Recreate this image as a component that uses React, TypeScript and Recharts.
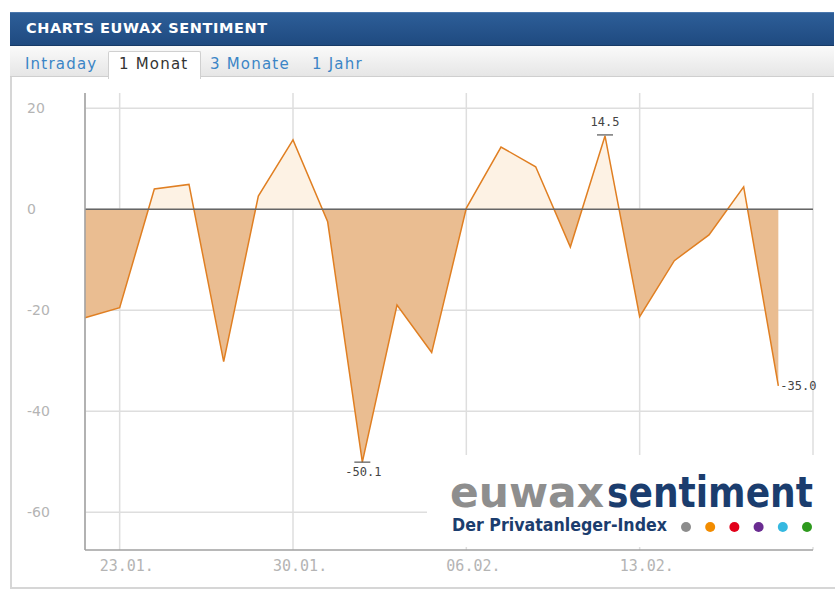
import React from 'react';
import { AreaChart, Area, XAxis, YAxis, CartesianGrid, ReferenceLine, LabelList } from 'recharts';

const dates = [
  '20.01.', '23.01.', '24.01.', '25.01.', '26.01.', '27.01.',
  '30.01.', '31.01.', '01.02.', '02.02.', '03.02.',
  '06.02.', '07.02.', '08.02.', '09.02.', '10.02.',
  '13.02.', '14.02.', '15.02.', '16.02.', '17.02.', '20.02.',
];
const sentiment: (number | null)[] = [
  -21.5, -19.5, 4.0, 4.9, -30.2, 2.6,
  13.7, -2.5, -50.1, -19.0, -28.4,
  0.2, 12.3, 8.4, -7.5, 14.5,
  -21.3, -10.2, -5.1, 4.4, -35.0, null,
];
const xTicks = ['23.01.', '30.01.', '06.02.', '13.02.'];
const yTicks = [20, 0, -20, -40, -60];
const tabs = ['Intraday', '1 Monat', '3 Monate', '1 Jahr'];
const logoDots = ['#8c8c8c', '#f28c00', '#e2001a', '#6a2c91', '#35b8e0', '#2e9a1e'];

const data = dates.map((d, i) => ({ date: d, value: sentiment[i] }));

const nums = sentiment.filter((v): v is number => v !== null);
const maxV = Math.max(...nums);
const minV = Math.min(...nums);
const maxIdx = sentiment.indexOf(maxV);
const minIdx = sentiment.indexOf(minV);
const lastIdx = nums.length - 1;
const splitOffset = maxV / (maxV - minV);

const mono = '"DejaVu Sans Mono", monospace';

const YTick = (props: any) => (
  <text x={27} y={props.y + 5} fill="#b4b4b4" fontSize={14} fontFamily="'DejaVu Sans', sans-serif" textAnchor="start">
    {props.payload.value}
  </text>
);

const XTick = (props: any) => (
  <text x={props.x - 20} y={571} fill="#b4b4b4" fontSize={15} fontFamily={mono} textAnchor="start">
    {props.payload.value}
  </text>
);

const PointLabel = (props: any) => {
  const { x, y, value, index } = props;
  if (index === maxIdx) {
    return (
      <g>
        <line x1={x - 8} x2={x + 8} y1={y - 1} y2={y - 1} stroke="#555" strokeWidth={1.2} />
        <text x={x} y={y - 10} fill="#444" fontSize={12} fontFamily={mono} textAnchor="middle">{value.toFixed(1)}</text>
      </g>
    );
  }
  if (index === minIdx) {
    return (
      <g>
        <line x1={x - 8} x2={x + 8} y1={y} y2={y} stroke="#555" strokeWidth={1.2} />
        <text x={x + 1} y={y + 14} fill="#444" fontSize={12} fontFamily={mono} textAnchor="middle">{value.toFixed(1)}</text>
      </g>
    );
  }
  if (index === lastIdx) {
    return (
      <text x={x + 2} y={y + 4} fill="#444" fontSize={12} fontFamily={mono} textAnchor="start">{value.toFixed(1)}</text>
    );
  }
  return null;
};

export default function App() {
  return (
    <div style={{ position: 'absolute', left: 0, top: 0, width: 835, height: 599, background: '#fff', overflow: 'hidden', fontFamily: '"DejaVu Sans", sans-serif' }}>
      {/* title bar */}
      <div style={{ position: 'absolute', left: 10, top: 12, width: 824, height: 32, background: 'linear-gradient(#2d5e98, #1f4a80)', borderTop: '1px solid #4a77ad', borderBottom: '1px solid #173a66' }}>
        <span style={{ position: 'absolute', left: 16, top: 7, color: '#fff', fontWeight: 'bold', fontSize: 14.5, letterSpacing: 0.6 }}>CHARTS EUWAX SENTIMENT</span>
      </div>
      {/* tabs */}
      <div style={{ position: 'absolute', left: 10, top: 46, width: 824, height: 30, background: 'linear-gradient(#fafafa, #e6e6e6)', borderBottom: '1px solid #cfcfcf' }} />
      <div style={{ position: 'absolute', left: 108, top: 51, width: 91, height: 27, background: '#fff', border: '1px solid #d0d0d0', borderBottom: 'none', borderRadius: '2px 2px 0 0' }} />
      {tabs.map((t, i) => (
        <span key={t} style={{ position: 'absolute', left: [25, 119, 210, 312][i], top: 55, fontSize: 15, letterSpacing: 1.2, color: i === 1 ? '#333' : '#3b85c6' }}>{t}</span>
      ))}
      {/* frame */}
      <div style={{ position: 'absolute', left: 10, top: 77, width: 830, height: 510, borderLeft: '2px solid #d6d6d6', borderBottom: '2px solid #d6d6d6' }} />
      <div style={{ position: 'absolute', left: 0, top: 0 }}>
        <AreaChart width={835} height={599} data={data} margin={{ top: 93, right: 22, bottom: 0, left: 0 }}>
          <defs>
            <linearGradient id="splitFill" x1="0" y1="0" x2="0" y2="1">
              <stop offset={splitOffset} stopColor="#fdf2e4" stopOpacity={1} />
              <stop offset={splitOffset} stopColor="#eabd91" stopOpacity={1} />
            </linearGradient>
          </defs>
          <CartesianGrid stroke="#dedede" strokeWidth={1.5} horizontalValues={yTicks} />
          <XAxis
            dataKey="date"
            ticks={xTicks}
            interval={0}
            height={49}
            axisLine={{ stroke: '#a0a0a0', strokeWidth: 1.5 }}
            tickLine={false}
            tick={<XTick />}
          />
          <YAxis
            domain={[-67.5, 23]}
            ticks={yTicks}
            width={85}
            axisLine={{ stroke: '#a0a0a0', strokeWidth: 1.5 }}
            tickLine={false}
            tick={<YTick />}
            allowDataOverflow
          />
          <Area
            type="linear"
            dataKey="value"
            baseValue={0}
            stroke="#e07f22"
            strokeWidth={1.5}
            fill="url(#splitFill)"
            fillOpacity={1}
            dot={false}
            activeDot={false}
            isAnimationActive={false}
          >
            <LabelList dataKey="value" content={<PointLabel />} />
          </Area>
          <ReferenceLine y={0} stroke="#666" strokeWidth={1.5} />
        </AreaChart>
      </div>
      {/* logo */}
      <svg style={{ position: 'absolute', left: 427, top: 455 }} width={408} height={92}>
        <rect x={0} y={0} width={396} height={92} fill="#fff" />
        <g transform="translate(0,52) scale(1,1.17)">
          <text x={23} y={0} fontSize={36} fontWeight="bold" fill="#8e8e8e" textLength={154} lengthAdjust="spacingAndGlyphs">euwax</text>
          <text x={180} y={0} fontSize={36} fontWeight="bold" fill="#1b3d6e" textLength={206} lengthAdjust="spacingAndGlyphs">sentiment</text>
        </g>
        <text x={25} y={76} fontSize={17} fontWeight="bold" fill="#1b3d6e" textLength={215} lengthAdjust="spacingAndGlyphs">Der Privatanleger-Index</text>
        {logoDots.map((c, i) => (
          <circle key={c} cx={259 + i * 24.2} cy={72} r={5} fill={c} />
        ))}
      </svg>
    </div>
  );
}
